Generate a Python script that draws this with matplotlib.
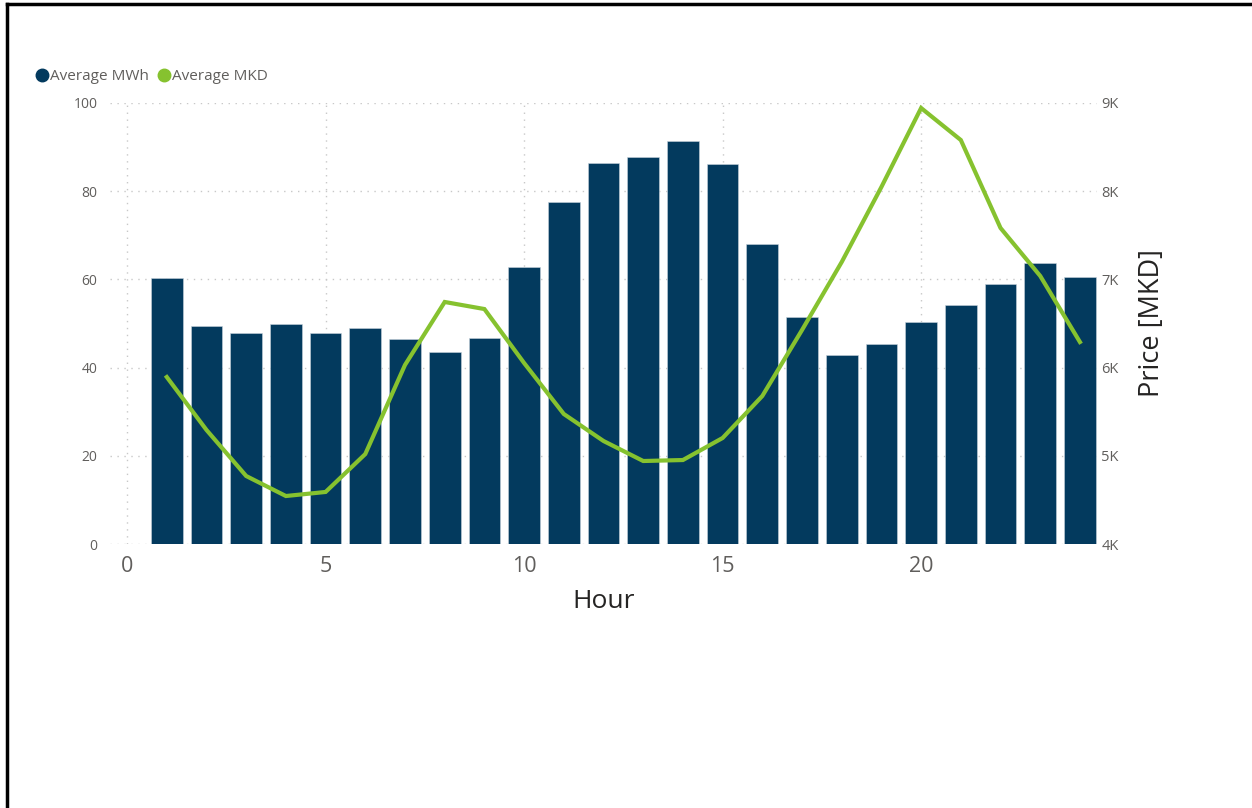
import matplotlib.pyplot as plt
from matplotlib.lines import Line2D
from matplotlib.ticker import FuncFormatter

# Hourly averages
hours = list(range(1, 25))
avg_mwh = [60.3, 49.4, 47.8, 49.9, 47.8, 49.0, 46.5, 43.5, 46.7, 62.8, 77.6, 86.4,
           87.8, 91.4, 86.2, 68.0, 51.5, 42.9, 45.4, 50.3, 54.2, 59.0, 63.7, 60.5]
avg_mkd = [5893, 5293, 4771, 4544, 4590, 5020, 6030, 6744, 6664, 6052, 5474, 5168,
           4941, 4952, 5202, 5678, 6426, 7197, 8048, 8943, 8580, 7583, 7039, 6290]
legend_labels = ["Average MWh", "Average MKD"]

BAR_COLOR = "#033a5e"
LINE_COLOR = "#86c22f"
TICK_COLOR = "#605e5c"

plt.rcParams["font.family"] = ["Open Sans", "DejaVu Sans"]

fig = plt.figure(figsize=(12.52, 8.08), dpi=100)
ax = fig.add_axes([110 / 1252, 1 - 544 / 808, (1097 - 110) / 1252, (544 - 103) / 808])
ax2 = ax.twinx()

ax.bar(hours, avg_mwh, width=0.8, color=BAR_COLOR, edgecolor="#c8d3dc", linewidth=0.4, zorder=2)
ax2.plot(hours, avg_mkd, color=LINE_COLOR, linewidth=3, zorder=3, solid_joinstyle="miter")

ax.set_xlim(-0.43, 24.43)
ax.set_ylim(0, 100)
ax2.set_ylim(4000, 9000)

ax.set_xticks([0, 5, 10, 15, 20])
ax.set_yticks([0, 20, 40, 60, 80, 100])
ax2.set_yticks([4000, 5000, 6000, 7000, 8000, 9000])
ax2.yaxis.set_major_formatter(FuncFormatter(lambda v, p: f"{int(v / 1000)}K"))

ax.grid(True, color="#c8c8c8", linestyle=(0, (1, 4)), linewidth=1.0, zorder=0)
ax.set_axisbelow(True)

for a in (ax, ax2):
    for s in a.spines.values():
        s.set_visible(False)
    a.tick_params(length=0)

ax.tick_params(axis="y", labelsize=10, labelcolor=TICK_COLOR, pad=9)
ax.tick_params(axis="x", labelsize=15.5, labelcolor=TICK_COLOR, pad=9)
ax2.tick_params(axis="y", labelsize=10.5, labelcolor=TICK_COLOR, pad=3)

ax.set_xlabel("Hour", fontsize=19, color="#252423", labelpad=8)
ax2.set_ylabel("Price [MKD]", fontsize=19.5, color="#252423", labelpad=14)

# legend in top-left corner
handles = [
    Line2D([], [], marker="o", linestyle="", color=BAR_COLOR, markersize=9),
    Line2D([], [], marker="o", linestyle="", color=LINE_COLOR, markersize=9),
]
fig.legend(handles, legend_labels, loc="upper left", bbox_to_anchor=(35 / 1252, 1 - 69 / 808),
           ncol=2, frameon=False, fontsize=11, handletextpad=0.05, columnspacing=0.6,
           handlelength=0.9, labelcolor=TICK_COLOR, borderaxespad=0, borderpad=0)

# frame lines at the top and left edge of the picture
fig.add_artist(Line2D([7 / 1252, 7 / 1252], [0, 1 - 4 / 808], transform=fig.transFigure,
                      color="black", linewidth=2.5))
fig.add_artist(Line2D([7 / 1252, 1], [1 - 4 / 808, 1 - 4 / 808], transform=fig.transFigure,
                      color="black", linewidth=2.5))

fig.savefig("out.png", dpi=100)
